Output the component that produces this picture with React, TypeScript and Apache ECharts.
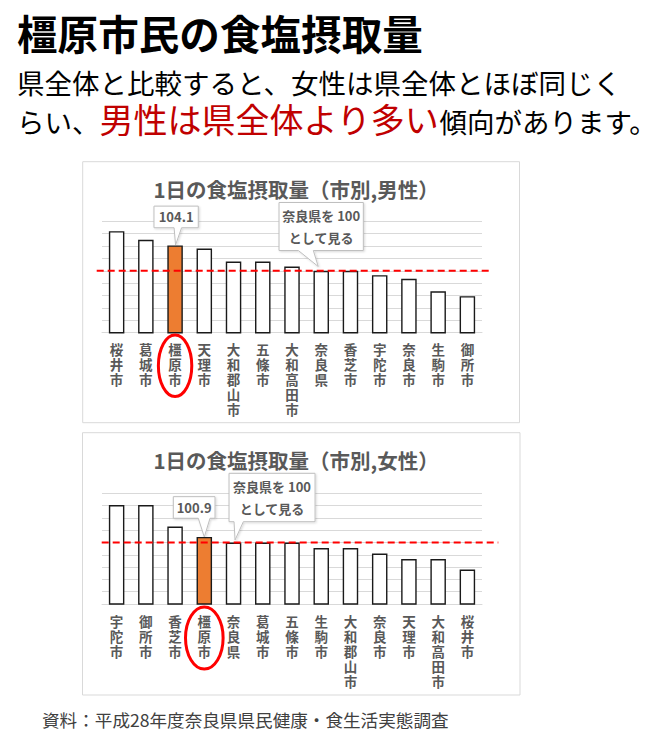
import React, { useEffect, useRef } from "react";
import * as echarts from "echarts";

// ---- data ----
const maleCategories = ["桜井市", "葛城市", "橿原市", "天理市", "大和郡山市", "五條市", "大和高田市", "奈良県", "香芝市", "宇陀市", "奈良市", "生駒市", "御所市"];
const maleValues = [106.4, 105.0, 104.1, 103.6, 101.5, 101.5, 100.7, 100.0, 100.0, 99.3, 98.7, 96.7, 95.9];
const femaleCategories = ["宇陀市", "御所市", "香芝市", "橿原市", "奈良県", "葛城市", "五條市", "生駒市", "大和郡山市", "奈良市", "天理市", "大和高田市", "桜井市"];
const femaleValues = [106.1, 106.1, 102.6, 100.9, 100.0, 100.0, 100.0, 99.1, 99.1, 98.2, 97.3, 97.3, 95.6];
const highlightCity = "橿原市";
const prefecture = "奈良県";
const baselineValue = 100;
const yMin = 90;
const yMax = 108;
const yInterval = 2;

// ---- texts ----
const headline = "橿原市民の食塩摂取量";
const leadLine1 = "県全体と比較すると、女性は県全体とほぼ同じく";
const leadLine2a = "らい、";
const leadLine2b = "男性は県全体より多い";
const leadLine2c = "傾向があります。";
const maleTitle = "1日の食塩摂取量（市別,男性）";
const femaleTitle = "1日の食塩摂取量（市別,女性）";
const baselineNote = ["奈良県を 100", "として見る"];
const sourceNote = "資料：平成28年度奈良県県民健康・食生活実態調査";

const FONT = '"Noto Sans CJK JP", "Noto Sans CJK SC", "Noto Sans", sans-serif';
const GRAY = "#595959";
const ORANGE = "#ED7D31";
const RED = "#FF0000";

type Callout = { box: [number, number, number, number]; base: [number, number]; tip: [number, number] };
type Panel = {
  cats: string[];
  vals: number[];
  title: string;
  gridTop: number;
  gridHeight: number;
  frame: [number, number, number, number];
  titleY: number;
  lineExt: [number, number];
  ellipse: { dy: number; rx: number; ry: number };
  valueCallout: Callout;
  baseCallout: Callout;
};

const panels: Panel[] = [
  {
    cats: maleCategories,
    vals: maleValues,
    title: maleTitle,
    gridTop: 221.3,
    gridHeight: 111.4,
    frame: [82.7, 161.7, 436.8, 261],
    titleY: 189.3,
    lineExt: [5.3, 10.7],
    ellipse: { dy: 33.1, rx: 16.7, ry: 30.8 },
    valueCallout: { box: [-21.1, 23.2, -39.3, -17.7], base: [-1, 6.5], tip: [0.5, -0.5] },
    baseCallout: { box: [-42.2, 42.1, -68.3, -20.3], base: [-22.9, -7.9], tip: [-3, -4.3] },
  },
  {
    cats: femaleCategories,
    vals: femaleValues,
    title: femaleTitle,
    gridTop: 493.3,
    gridHeight: 110.7,
    frame: [82.5, 432.7, 437.5, 262.3],
    titleY: 460,
    lineExt: [0.3, 16.3],
    ellipse: { dy: 34, rx: 18.8, ry: 31 },
    valueCallout: { box: [-31, 10.7, -40.3, -18.7], base: [-6, 5.7], tip: [0, 0] },
    baseCallout: { box: [-4.5, 81.5, -69.2, -20.8], base: [0.5, 9.8], tip: [1.5, -2.5] },
  },
];

const GRID_LEFT = 102;
const GRID_WIDTH = 380;

function textEl(x: number, y: number, text: string, fontSize: number, opts: any = {}) {
  const align = opts.align || "left";
  return {
    type: "text",
    x,
    y,
    z: 30,
    silent: true,
    style: {
      text,
      fontSize,
      fontFamily: FONT,
      fontWeight: opts.fontWeight || "normal",
      fill: opts.fill || "#000",
      align,
      verticalAlign: "middle",
      textAlign: align,
      textVerticalAlign: "middle",
    },
  };
}

function callout(tx: number, ty: number, c: Callout, lines: string[]) {
  const [l, r, t, b] = c.box;
  const pts = [
    [tx + l, ty + t],
    [tx + r, ty + t],
    [tx + r, ty + b],
    [tx + c.base[1], ty + b],
    [tx + c.tip[0], ty + c.tip[1]],
    [tx + c.base[0], ty + b],
    [tx + l, ty + b],
  ];
  const cx = tx + (l + r) / 2;
  const cy = ty + (t + b) / 2;
  const lh = 22.3;
  const els: any[] = [
    {
      type: "polygon",
      z: 25,
      silent: true,
      shape: { points: pts },
      style: { fill: "#fff", stroke: "#bfbfbf", lineWidth: 1, shadowBlur: 2, shadowColor: "rgba(0,0,0,0.15)", shadowOffsetX: 1, shadowOffsetY: 1 },
    },
  ];
  lines.forEach((s, i) => {
    els.push(
      textEl(cx, cy + (i - (lines.length - 1) / 2) * lh, s, 13, {
        align: "center",
        fill: GRAY,
        fontWeight: "bold",
      })
    );
  });
  return els;
}

export default function App() {
  const ref = useRef<HTMLDivElement>(null);

  useEffect(() => {
    if (!ref.current) return;
    const chart = echarts.init(ref.current, undefined, { renderer: "svg" });

    const grid = panels.map((p) => ({
      left: GRID_LEFT,
      width: GRID_WIDTH,
      top: p.gridTop,
      height: p.gridHeight,
      containLabel: false,
    }));

    const xAxis = panels.map((p, i) => ({
      type: "category",
      gridIndex: i,
      data: p.cats,
      axisTick: { show: false },
      axisLine: { show: true, lineStyle: { color: "#d9d9d9", width: 1 } },
      axisLabel: {
        interval: 0,
        margin: 9,
        fontSize: 13.5,
        lineHeight: 15,
        fontFamily: FONT,
        fontWeight: "bold",
        color: GRAY,
        formatter: (v: string) => v.split("").join("\n"),
      },
    }));

    const yAxis = panels.map((p, i) => ({
      type: "value",
      gridIndex: i,
      min: yMin,
      max: yMax,
      interval: yInterval,
      axisLine: { show: false },
      axisTick: { show: false },
      axisLabel: { show: false },
      splitLine: { show: true, lineStyle: { color: "#d9d9d9", width: 1 } },
    }));

    const series = panels.map((p, i) => ({
      type: "bar",
      xAxisIndex: i,
      yAxisIndex: i,
      barWidth: 15.5,
      silent: true,
      itemStyle: { color: "#fff", borderColor: "#1a1a1a", borderWidth: 1.4 },
      data: p.vals.map((v, k) =>
        p.cats[k] === highlightCity ? { value: v, itemStyle: { color: ORANGE } } : { value: v }
      ),
    }));

    chart.setOption({
      animation: false,
      backgroundColor: "#fff",
      grid,
      xAxis,
      yAxis,
      series,
    });

    const graphic: any[] = [];

    // page texts
    graphic.push(textEl(17, 32, headline, 40.6, { fontWeight: "bold", fill: "#000" }));
    graphic.push(textEl(17, 82, leadLine1, 27.5, { fill: "#000" }));
    const fs2 = 27.5;
    const fsRed = 34;
    const xA = 17;
    const xB = xA + leadLine2a.length * fs2;
    const xC = xB + leadLine2b.length * fsRed;
    graphic.push(textEl(xA, 121, leadLine2a, fs2, { fill: "#000" }));
    graphic.push(textEl(xB, 118, leadLine2b, fsRed, { fill: "#C00000" }));
    graphic.push(textEl(xC, 121, leadLine2c, fs2, { fill: "#000" }));
    graphic.push(textEl(42, 719, sourceNote, 17.6, { fill: "#404040" }));

    panels.forEach((p, i) => {
      const [fx, fy, fw, fh] = p.frame;
      graphic.push({
        type: "rect",
        z: 1,
        silent: true,
        shape: { x: fx, y: fy, width: fw, height: fh },
        style: { fill: "none", stroke: "#d9d9d9", lineWidth: 1 },
      });
      graphic.push(textEl(296, p.titleY, p.title, 20.5, { align: "center", fontWeight: "bold", fill: GRAY }));

      const finder = { gridIndex: i };
      const baseY = (chart.convertToPixel(finder, [0, baselineValue]) as number[])[1];
      graphic.push({
        type: "line",
        z: 20,
        silent: true,
        shape: { x1: GRID_LEFT - p.lineExt[0], y1: baseY, x2: GRID_LEFT + GRID_WIDTH + p.lineExt[1], y2: baseY },
        style: { stroke: RED, lineWidth: 2, lineDash: [7, 4] },
      });

      const hi = p.cats.indexOf(highlightCity);
      const hiPt = chart.convertToPixel(finder, [hi, p.vals[hi]]) as number[];
      graphic.push(...callout(hiPt[0], hiPt[1], p.valueCallout, [p.vals[hi].toFixed(1)]));

      const pi = p.cats.indexOf(prefecture);
      const pPt = chart.convertToPixel(finder, [pi, p.vals[pi]]) as number[];
      graphic.push(...callout(pPt[0], pPt[1], p.baseCallout, baselineNote));

      const bottomY = (chart.convertToPixel(finder, [0, yMin]) as number[])[1];
      graphic.push({
        type: "ellipse",
        z: 22,
        silent: true,
        shape: { cx: hiPt[0], cy: bottomY + p.ellipse.dy, rx: p.ellipse.rx, ry: p.ellipse.ry },
        style: { fill: "none", stroke: RED, lineWidth: 3 },
      });
    });

    chart.setOption({ graphic });

    return () => {
      chart.dispose();
    };
  }, []);

  return (
    <div
      ref={ref}
      style={{ position: "absolute", left: 0, top: 0, width: 656, height: 736, background: "#fff" }}
    />
  );
}
